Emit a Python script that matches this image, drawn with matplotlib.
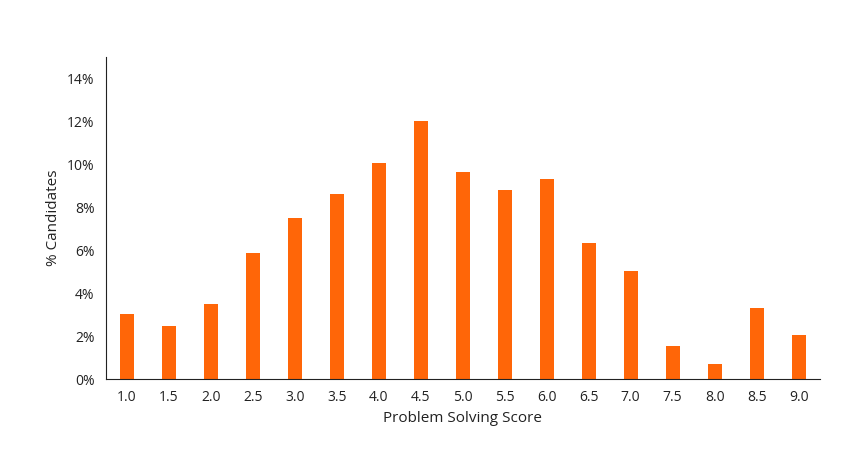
import matplotlib.pyplot as plt
import numpy as np

scores = ['1.0', '1.5', '2.0', '2.5', '3.0', '3.5', '4.0', '4.5', '5.0',
          '5.5', '6.0', '6.5', '7.0', '7.5', '8.0', '8.5', '9.0']
pct = [3.05, 2.45, 3.5, 5.85, 7.5, 8.6, 10.05, 12.0, 9.65,
       8.8, 9.3, 6.35, 5.05, 1.55, 0.7, 3.3, 2.05]

plt.rcParams['font.family'] = ['Open Sans', 'DejaVu Sans']

fig = plt.figure(figsize=(8.52, 4.55), dpi=100)
ax = fig.add_axes([0.124, 0.167, 0.838, 0.708])

x = np.arange(len(scores))
ax.bar(x, pct, width=0.33, color='#FF6608')

ax.set_xlim(-0.5, len(scores) - 0.5)
ax.set_ylim(0, 15)
ax.set_yticks(range(0, 15, 2))
ax.set_yticklabels([f"{v}%" for v in range(0, 15, 2)])
ax.set_xticks(x)
ax.set_xticklabels(scores)
ax.tick_params(length=0, labelsize=10, colors='#222222', pad=8)
ax.spines['top'].set_visible(False)
ax.spines['right'].set_visible(False)
ax.spines['left'].set_color('#222222')
ax.spines['bottom'].set_color('#222222')

ax.set_xlabel("Problem Solving Score", fontsize=11, color='#222222')
ax.set_ylabel("% Candidates", fontsize=11, color='#222222')

fig.savefig("out.png", dpi=100)
